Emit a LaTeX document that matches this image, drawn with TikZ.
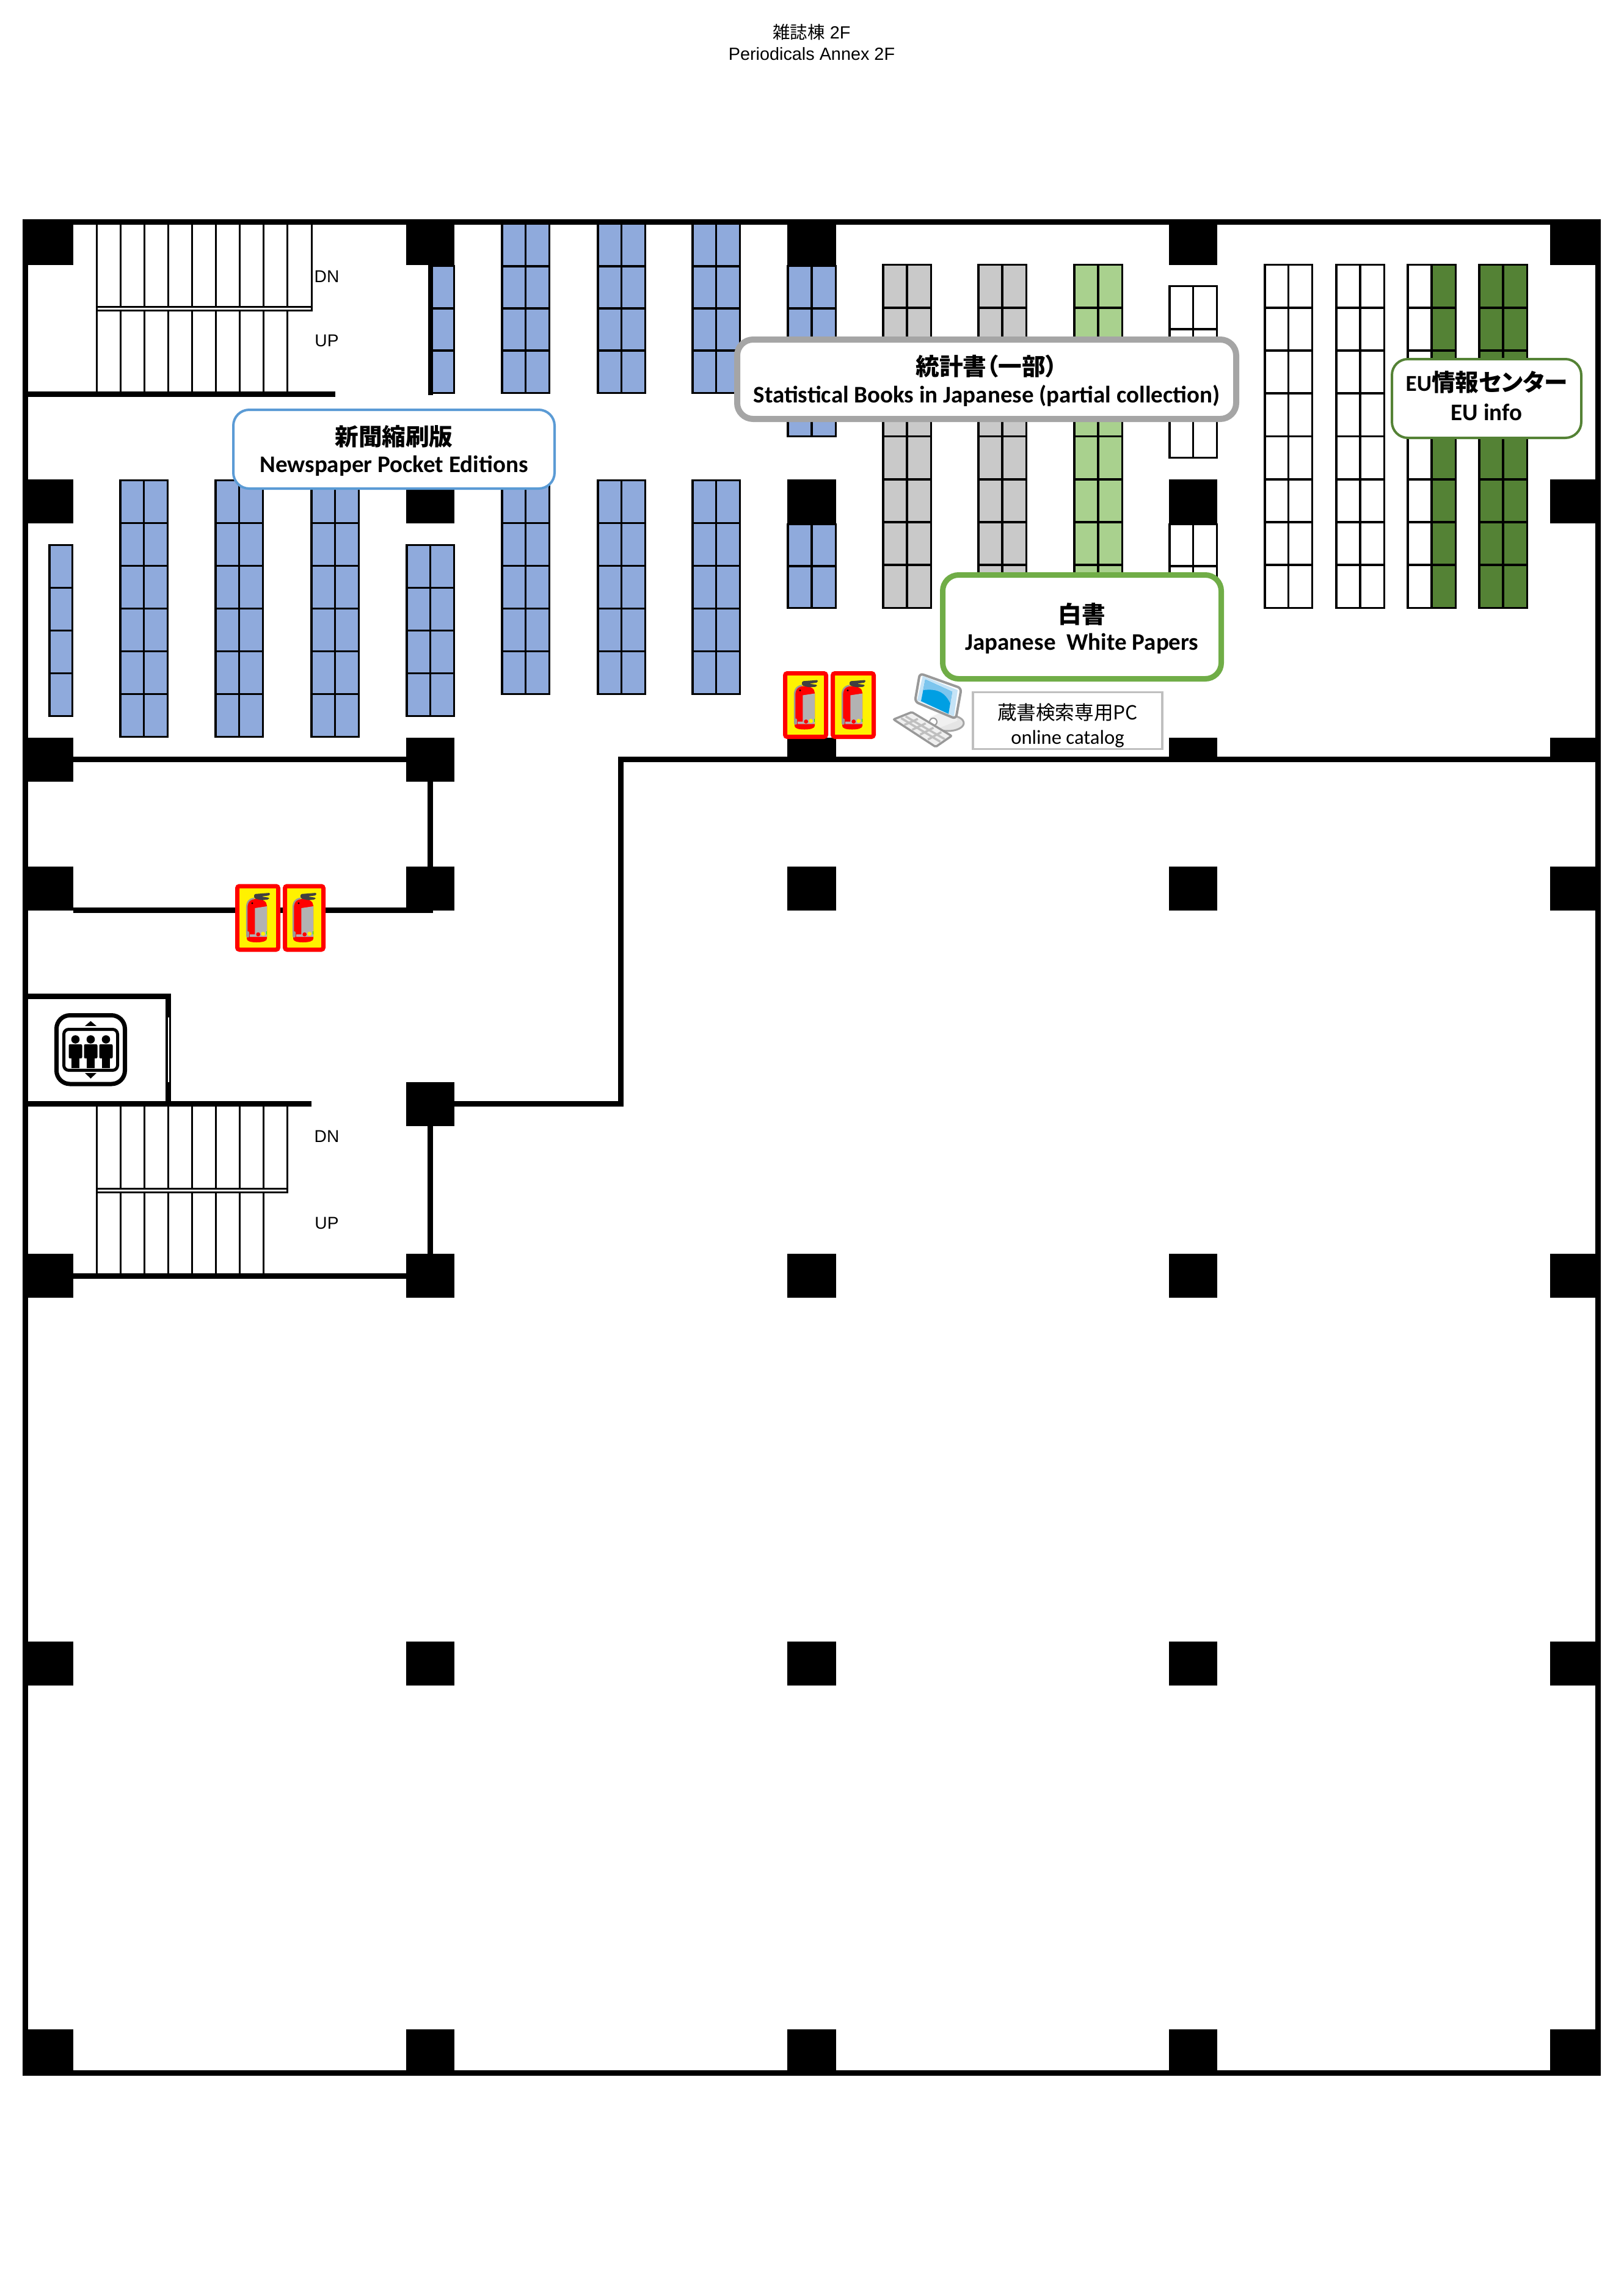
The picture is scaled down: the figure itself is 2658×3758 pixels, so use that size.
\documentclass[tikz,border=0pt]{standalone}
\usepackage{fontspec}
\setmainfont{Liberation Sans}
\newfontfamily\jpfont[RawFeature=+palt]{Noto Sans CJK JP}
\newfontfamily\labelfont{Carlito}
\usetikzlibrary{positioning,calc}

\definecolor{shelfblue}{HTML}{8FAADC}
\definecolor{shelfgrey}{HTML}{C9C9C9}
\definecolor{shelflight}{HTML}{A9D18E}
\definecolor{shelfdark}{HTML}{548235}
\definecolor{screenblue}{HTML}{009FE3}
\definecolor{screenlight}{HTML}{7CC5EE}
\definecolor{rimblue}{HTML}{C5E3F6}

\tikzset{
    wall/.style={line width=0.9mm},
    stepline/.style={line width=0.3mm},
    pillar/.style={fill=black},
    shelfline/.style={line width=0.38mm},
    tag/.style={draw, fill=white, rounded corners=2.6mm, align=center, inner sep=0pt},
    firebox/.style={draw=red, fill=yellow, line width=0.7mm, rounded corners=0.35mm, minimum width=6.7mm, minimum height=10.4mm, inner sep=0pt},
    floortext/.style={font=\fontsize{8}{9}\selectfont},
    extinguisher/.pic={
        \fill[red] (-18,-20) .. controls (-18,-28) and (-10,-31) .. (-2,-31) .. controls (8,-31) and (15,-27) .. (15,-20) -- (15,34) .. controls (15,38) and (8,40) .. (-2,40) .. controls (-12,40) and (-18,38) .. (-18,34) -- cycle;
        \fill[black!75, rounded corners=0.2mm] (-6,-39) -- (20,-41) -- (20,-37) -- (6,-35) -- (19,-33) -- (18,-30) -- (6,-29) -- (-6,-32) -- cycle;
        \fill[black!30] (-4.7,-16) -- (15,-19) -- (15,31) -- (-13,31) -- (-13,27) -- (-4.7,27) -- cycle;
        \draw[black!40, line width=0.25mm] (-6,-32) .. controls (-16,-30) and (-18,-24) .. (-18,-15) -- (-18,24);
        \fill[black!40, rounded corners=0.2mm] (-19,22) rectangle (-14,32);
        \fill[red] (0.7,27) circle (3.4);
        \fill[yellow] (8.7,26) circle (3.4);
        \fill[green] (13.5,22) rectangle (15,27);
        \fill[black] (-9,-24) circle (1.6);
    }
}

% one bookcase column, #5 = number of cells
\newcommand{\shelf}[6]{
    \draw[shelfline, fill=#6] (#1+1,#3+1.5) rectangle (#2-0.5,#4-1.5);
    \draw[shelfline] ({(#1+#2)/2},#3) -- ({(#1+#2)/2},#4);
    \foreach \k in {1,...,#5}{
        \draw[shelfline] (#1+1,{#3+1.5+(#4-#3-3)*\k/#5}) -- (#2-0.5,{#3+1.5+(#4-#3-3)*\k/#5});
    }
}
\newcommand{\halfshelf}[5]{
    \draw[shelfline, fill=shelfblue] (#1+1,#3+1.5) rectangle (#2-0.5,#4-1.5);
    \foreach \k in {1,...,#5}{
        \draw[shelfline] (#1+1,{#3+1.5+(#4-#3-3)*\k/#5}) -- (#2-0.5,{#3+1.5+(#4-#3-3)*\k/#5});
    }
}
\newcommand{\tagtext}[2]{\rule{0pt}{3.8mm}{\jpfont\bfseries\fontsize{11}{14.5}\selectfont #1}\\[0.2mm]{\labelfont\bfseries\fontsize{11.1}{14.5}\selectfont #2}}

\begin{document}
\begin{tikzpicture}[x=0.1mm, y=-0.1mm]
    \useasboundingbox (0,0) rectangle (2658,3758);
    \fill[white] (0,0) rectangle (2658,3758);

    \node[font=\fontsize{8.2}{9.6}\selectfont, align=center, inner sep=0pt] (title) at (1329,69) {{\jpfont\fontsize{8.1}{9.6}\selectfont 雑誌棟} 2F\\[0.2mm]Periodicals Annex 2F};

    % bookcases
    \halfshelf{80}{119}{891}{1174}{4}
    \foreach \x in {196,352,509}{
        \shelf{\x}{\x+79}{785}{1208}{6}{shelfblue}
    }
    \shelf{665}{744}{891}{1174}{4}{shelfblue}
    \foreach \x in {821,978,1133}{
        \shelf{\x}{\x+79}{785}{1138}{5}{shelfblue}
        \shelf{\x}{\x+79}{365}{645}{4}{shelfblue}
    }
    \halfshelf{705}{744}{434}{645}{3}
    \draw[line width=0.8mm] (705,434) -- (705,647);
    \shelf{1289}{1369}{434}{716}{4}{shelfblue}
    \shelf{1289}{1369}{857}{997}{2}{shelfblue}
    \shelf{1445}{1525}{432}{997}{8}{shelfgrey}
    \shelf{1601}{1681}{432}{997}{8}{shelfgrey}
    \shelf{1758}{1838}{432}{997}{8}{shelflight}
    \shelf{1914}{1993}{467}{751}{4}{white}
    \shelf{1914}{1993}{857}{997}{2}{white}
    \shelf{2070}{2149}{432}{997}{8}{white}
    \shelf{2187}{2267}{432}{997}{8}{white}
    \fill[shelfdark] (2344,432) rectangle (2384,997);
    \shelf{2304}{2384}{432}{997}{8}{none}
    \shelf{2421}{2501}{432}{997}{8}{shelfdark}

    % pillars
    \foreach \x/\w in {46/74,665/79,1289/80,1914/79,2538/74}{
        \fill[pillar] (\x,367) rectangle (\x+\w,434);
        \fill[pillar] (\x,785) rectangle (\x+\w,857);
        \fill[pillar] (\x,1419) rectangle (\x+\w,1491);
        \fill[pillar] (\x,1208) rectangle (\x+\w,1243);
        \foreach \y in {2053,2688,3323}{
            \fill[pillar] (\x,\y) rectangle (\x+\w,\y+72);
        }
    }
    \foreach \x/\w in {46/74,665/79}{
        \fill[pillar] (\x,1208) rectangle (\x+\w,1280);
    }
    \fill[pillar] (665,1772) rectangle (744,1844);

    % walls
    \draw[wall] (41.5,363.5) rectangle (2616.5,3394.5);
    \draw[wall] (45,645) -- (549,645);
    \draw[wall] (120,1243.5) -- (665,1243.5);
    \draw[wall] (1012,1243.5) -- (2612,1243.5);
    \draw[wall] (1016.5,1239) -- (1016.5,1812);
    \draw[wall] (744,1807.5) -- (1021,1807.5);
    \draw[wall] (704.5,1280) -- (704.5,1420);
    \draw[wall] (120,1490.5) -- (709,1490.5);
    \draw[wall] (45,1631.5) -- (275.5,1631.5);
    \draw[wall] (275.5,1627) -- (275.5,1808);
    \draw[wall] (45,1807.5) -- (510,1807.5);
    \draw[white, line width=0.2mm] (275.5,1666) -- (275.5,1772);
    \draw[wall] (704.5,1844) -- (704.5,2053);
    \draw[wall] (120,2089.5) -- (665,2089.5);

    % stairs
    \foreach \x in {158,197,...,471}{
        \draw[stepline] (\x,367) -- (\x,502);
        \draw[stepline] (\x,508) -- (\x,641);
        \draw[stepline] (\x,1812) -- (\x,1946);
    }
    \foreach \x in {158,197,...,432}{
        \draw[stepline] (\x,1952) -- (\x,2086);
    }
    \draw[stepline] (510,367) -- (510,502);
    \draw[stepline] (470,1812) -- (470,1946);
    \draw[stepline] (158,502) rectangle (510,508);
    \draw[stepline] (158,1946) rectangle (470,1952);
    \node[floortext] (dnA) at (535,453) {DN};
    \node[floortext] (upA) at (535,558) {UP};
    \node[floortext] (dnB) at (535,1861) {DN};
    \node[floortext] (upB) at (535,2003) {UP};

    % elevator
    \draw[line width=0.7mm, rounded corners=2.2mm] (92.5,1662.5) rectangle (204.5,1775);
    \draw[line width=0.5mm, rounded corners=0.8mm] (104.5,1685.5) rectangle (192.5,1752.5);
    \fill (139,1680) -- (148.5,1672) -- (158,1680) -- cycle;
    \fill (139,1757) -- (148.5,1766) -- (158,1757) -- cycle;
    \foreach \x in {123.5,148.5,173.5}{
        \fill (\x,1702) circle (6.8);
        \fill[rounded corners=0.2mm] (\x-11,1710) rectangle (\x+11,1733);
        \fill (\x-6.5,1730) rectangle (\x+6.5,1749);
    }

    % extinguishers
    \node[firebox] (fireA) at (1319,1154.5) {};
    \node[firebox] (fireB) at (1397,1154.5) {};
    \node[firebox] (fireC) at (422,1503) {};
    \node[firebox, minimum width=6.3mm] (fireD) at (498,1503) {};
    \foreach \n in {fireA,fireB,fireC,fireD}{
        \pic at (\n) {extinguisher};
    }

    % computer
    \draw[black!35, fill=black!10, line width=0.3mm] (1552,1184) ellipse (26 and 13);
    \fill[black!6] (1522,1175) -- (1555,1160) -- (1568,1180) -- (1530,1195) -- cycle;
    \draw[black!40, fill=white, line width=0.2mm] (1528,1182) circle (6);
    \draw[black!40, fill=white, line width=0.4mm, rounded corners=0.6mm] (1506,1102.7) -- (1574,1127) -- (1565,1177) -- (1498,1149) -- cycle;
    \fill[rimblue] (1510.7,1106.7) -- (1568,1130) -- (1562,1173) -- (1501.7,1146.7) -- cycle;
    \fill[screenblue] (1515,1112.7) -- (1559,1132.7) -- (1553,1169) -- (1508,1148) -- cycle;
    \fill[screenlight] (1515,1112.7) -- (1559,1132.7) -- (1556,1152) .. controls (1546,1130) and (1530,1128) .. (1511.5,1130) -- cycle;
    \draw[black!40, fill=black!6, line width=0.35mm, rounded corners=0.2mm] (1493,1166) -- (1558,1205) -- (1532,1223) -- (1463,1178) -- cycle;
    \foreach \t in {0.2,0.4,0.6,0.8}{
        \draw[black!25, line width=0.35mm] ($(1490,1170)!\t!(1554,1206)$) -- ($(1468,1179)!\t!(1532,1219)$);
    }
    \foreach \t in {0.33,0.66}{
        \draw[black!25, line width=0.35mm] ($(1490,1170)!\t!(1468,1179)$) -- ($(1554,1206)!\t!(1532,1219)$);
    }

    % labels
    \node[tag, draw=black!25!white, rounded corners=0pt, line width=0.35mm, minimum width=31mm, minimum height=9.3mm] (catalog) at (1748,1180) {};
    \node[inner sep=0pt, align=center, font=\jpfont\fontsize{9}{11}\selectfont] (catalogtext) at (1748,1188) {蔵書検索専用PC\\[0.2mm]{\labelfont\fontsize{9.3}{11}\selectfont online catalog}};
    \node[tag, draw=shelfdark, line width=0.4mm, minimum width=31mm, minimum height=12.9mm] (euinfo) at (2434,652.5) {{\labelfont\bfseries\fontsize{10.6}{14}\selectfont EU}{\jpfont\bfseries\fontsize{11}{14}\selectfont 情報センター}\\[0.5mm]{\labelfont\bfseries\fontsize{11.1}{14}\selectfont EU info}\rule[-0.9mm]{0pt}{0pt}};
    \node[tag, draw={rgb,255:red,91;green,155;blue,213}, line width=0.4mm, minimum width=52.6mm, minimum height=12.9mm] (newspaper) at (645,735.5) {\tagtext{新聞縮刷版}{Newspaper Pocket Editions}};
    \node[tag, draw={rgb,255:red,165;green,165;blue,165}, line width=1mm, minimum width=81.7mm, minimum height=13mm] (statistics) at (1615.5,621) {\tagtext{統計書（一部）}{Statistical Books in Japanese (partial collection)}};
    \node[tag, draw={rgb,255:red,112;green,173;blue,71}, line width=0.9mm, minimum width=45.6mm, minimum height=17mm] (whitepaper) at (1771.5,1026.5) {\tagtext{白書}{Japanese\ \ White Papers}};
\end{tikzpicture}
\end{document}
